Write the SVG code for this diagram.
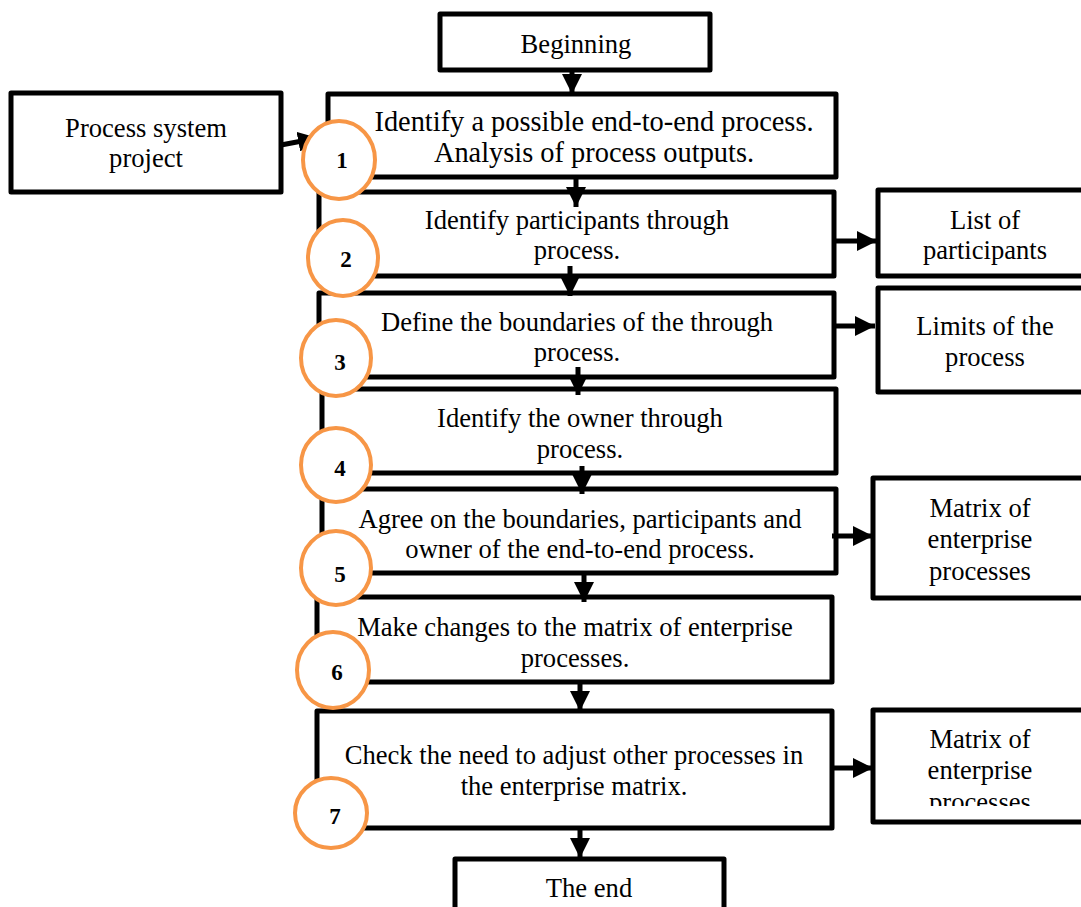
<svg xmlns="http://www.w3.org/2000/svg" width="1081" height="907" viewBox="0 0 1081 907">
<defs>
<style>
.box{fill:#fff;stroke:#000;stroke-width:5;stroke-linejoin:round}
.t{font-family:"Liberation Serif","Times New Roman",serif;font-size:26.6px;fill:#000;text-anchor:middle}
.big{font-size:28.4px}
.c{fill:#fff;stroke:#F79646;stroke-width:4}
.n{font-family:"Liberation Serif","Times New Roman",serif;font-size:23px;font-weight:bold;fill:#000;text-anchor:middle}
.ln{stroke:#000;stroke-width:5;fill:none}
</style>
<marker id="ah" viewBox="0 0 10 10" refX="10" refY="5" markerWidth="4" markerHeight="4" markerUnits="strokeWidth" orient="auto">
<path d="M0,0 L10,5 L0,10 Z" fill="#000"/>
</marker>
<clipPath id="clipM2"><rect x="870" y="705" width="211" height="101"/></clipPath>
<clipPath id="clip5"><rect x="290" y="530" width="100" height="52"/></clipPath>
</defs>
<rect width="1081" height="907" fill="#fff"/>

<g id="n-begin"><rect class="box" x="440" y="14" width="270" height="56"/><text class="t" x="576" y="53">Beginning</text></g>
<g id="n-project"><rect class="box" x="11" y="93" width="270" height="99"/><text class="t" x="146" y="137">Process system</text><text class="t" x="146" y="167">project</text></g>
<g id="n-step1"><rect class="box" x="328" y="94" width="508" height="83"/><text class="t big" x="594" y="131">Identify a possible end-to-end process.</text><text class="t big" x="594" y="162">Analysis of process outputs.</text></g>
<g id="n-step2"><rect class="box" x="319" y="192" width="515" height="84"/><text class="t" x="577" y="229">Identify participants through</text><text class="t" x="577" y="259">process.</text></g>
<g id="n-list"><rect class="box" x="878" y="190" width="210" height="86"/><text class="t" x="985" y="229">List of</text><text class="t" x="985" y="259">participants</text></g>
<g id="n-step3"><rect class="box" x="319" y="293" width="515" height="84"/><text class="t" x="577" y="331">Define the boundaries of the through</text><text class="t" x="577" y="361">process.</text></g>
<g id="n-limits"><rect class="box" x="878" y="288" width="210" height="104"/><text class="t" x="985" y="335">Limits of the</text><text class="t" x="985" y="366">process</text></g>
<g id="n-step4"><rect class="box" x="322" y="389" width="514" height="84"/><text class="t" x="580" y="427">Identify the owner through</text><text class="t" x="580" y="458">process.</text></g>
<g id="n-step5"><rect class="box" x="322" y="489" width="514" height="84"/><text class="t" x="580" y="528">Agree on the boundaries, participants and</text><text class="t" x="580" y="558">owner of the end-to-end process.</text></g>
<g id="n-matrix1"><rect class="box" x="873" y="478" width="215" height="120"/><text class="t" x="980" y="517">Matrix of</text><text class="t" x="980" y="548">enterprise</text><text class="t" x="980" y="580">processes</text></g>
<g id="n-step6"><rect class="box" x="317" y="597" width="515" height="85"/><text class="t" x="575" y="636">Make changes to the matrix of enterprise</text><text class="t" x="575" y="667">processes.</text></g>
<g id="n-step7"><rect class="box" x="317" y="711" width="515" height="117"/><text class="t" x="574" y="764">Check the need to adjust other processes in</text><text class="t" x="574" y="795">the enterprise matrix.</text></g>
<g id="n-matrix2"><rect class="box" x="873" y="710" width="215" height="112"/><g clip-path="url(#clipM2)"><text class="t" x="980" y="748">Matrix of</text><text class="t" x="980" y="779">enterprise</text><text class="t" x="980" y="811">processes</text></g></g>
<g id="n-end"><rect class="box" x="455" y="859" width="269" height="60"/><text class="t" x="589" y="897">The end</text></g>

<g id="connectors">
<line class="ln" x1="572" y1="70" x2="572" y2="94" marker-end="url(#ah)"/>
<line class="ln" x1="576" y1="177" x2="576" y2="207" marker-end="url(#ah)"/>
<line class="ln" x1="570" y1="266" x2="570" y2="296" marker-end="url(#ah)"/>
<line class="ln" x1="578" y1="367" x2="578" y2="395" marker-end="url(#ah)"/>
<line class="ln" x1="582" y1="466" x2="582" y2="494" marker-end="url(#ah)"/>
<line class="ln" x1="584" y1="573" x2="584" y2="602" marker-end="url(#ah)"/>
<line class="ln" x1="580" y1="682" x2="580" y2="711" marker-end="url(#ah)"/>
<line class="ln" x1="580" y1="828" x2="580" y2="858" marker-end="url(#ah)"/>
<line class="ln" x1="281" y1="145" x2="318" y2="138" marker-end="url(#ah)"/>
<line class="ln" x1="834" y1="241" x2="877" y2="241" marker-end="url(#ah)"/>
<line class="ln" x1="834" y1="326" x2="875" y2="326" marker-end="url(#ah)"/>
<line class="ln" x1="832" y1="536" x2="873" y2="536" marker-end="url(#ah)"/>
<line class="ln" x1="832" y1="768" x2="873" y2="768" marker-end="url(#ah)"/>
</g>

<g id="badge1"><ellipse class="c" cx="339" cy="160" rx="36" ry="39"/><text class="n" x="342" y="168">1</text></g>
<g id="badge2"><ellipse class="c" cx="343" cy="258" rx="35" ry="38"/><text class="n" x="346" y="267">2</text></g>
<g id="badge3"><ellipse class="c" cx="336" cy="358" rx="35" ry="38"/><text class="n" x="340" y="370">3</text></g>
<g id="badge4"><ellipse class="c" cx="336" cy="465" rx="35" ry="37"/><text class="n" x="340" y="476">4</text></g>
<g id="badge5"><ellipse class="c" cx="336" cy="568" rx="35" ry="37"/><g clip-path="url(#clip5)"><text class="n" x="340" y="582">5</text></g></g>
<g id="badge6"><ellipse class="c" cx="333" cy="670" rx="36" ry="38"/><text class="n" x="337" y="680">6</text></g>
<g id="badge7"><ellipse class="c" cx="331" cy="813" rx="36" ry="35"/><text class="n" x="335" y="824">7</text></g>
</svg>
